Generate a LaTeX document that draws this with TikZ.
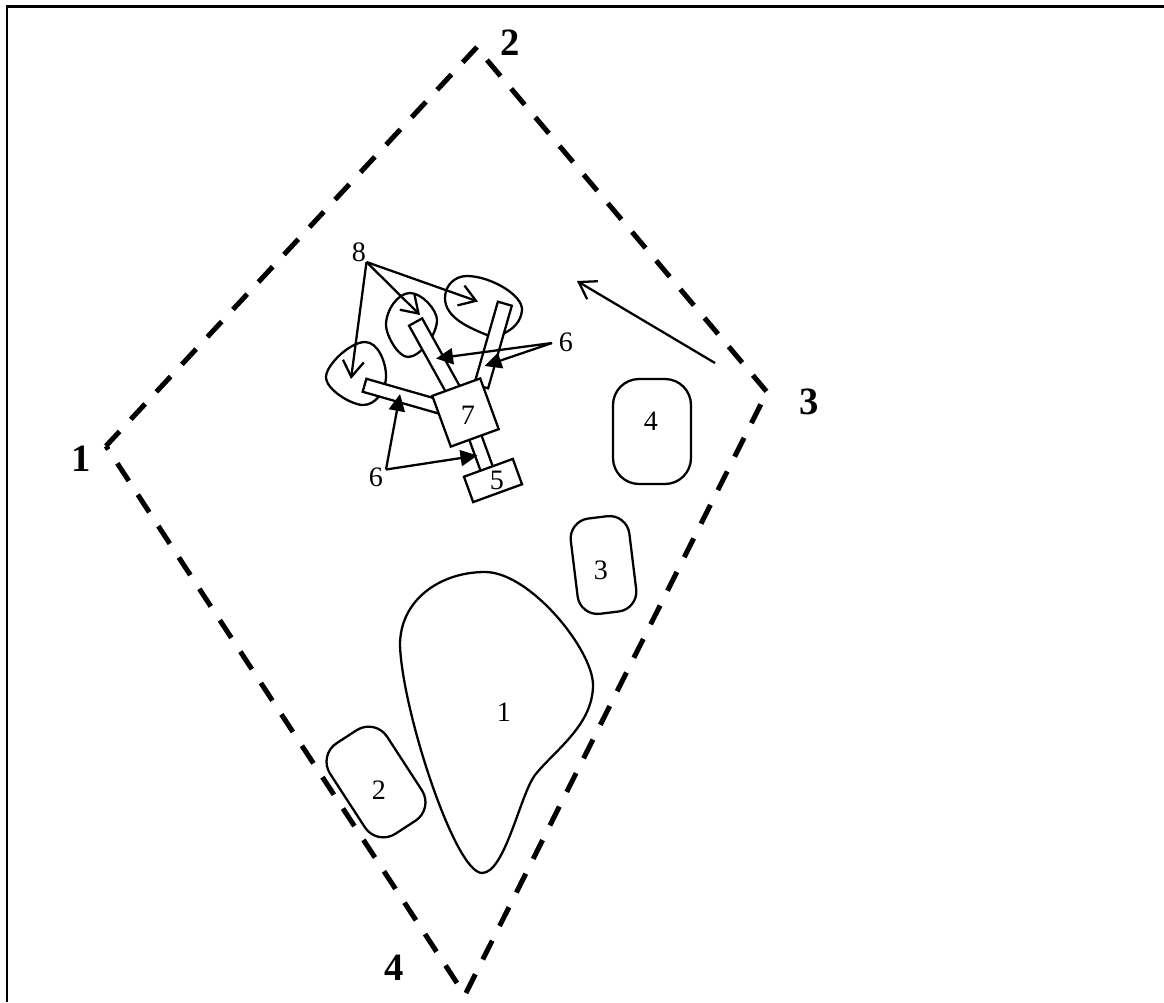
\documentclass[tikz,border=0pt]{standalone}
\usepackage{fontspec}
\setmainfont{Liberation Serif}
\usepackage{tikz}
\usetikzlibrary{arrows.meta}

\tikzset{
  thinline/.style={line width=1.3pt},
  border/.style={dash pattern=on 0.42cm off 0.33cm,line width=2.85pt},
  plotbox/.style={draw,thinline,fill=white,rounded corners=#1,inner sep=0pt},
  partbox/.style={draw,thinline,fill=white,inner sep=0pt},
  small/.style={font=\fontsize{16}{16}\selectfont,inner sep=0pt},
  large/.style={font=\fontsize{22}{22}\selectfont,inner sep=0pt,text=black,draw=none},
  openarrow/.style={thinline,-{Straight Barb[length=0.32cm,width=0.42cm,line width=1.3pt]}},
  solidarrow/.style={thinline,-{Triangle[length=0.34cm,width=0.32cm]}}
}

\begin{document}
\begin{tikzpicture}[x=0.02cm,y=-0.02cm]
  \useasboundingbox (0,0) rectangle (1164,1002);
  % Frame: only left and top sides show
  \draw[line width=1.7pt] (7,1002) -- (7,6.5) -- (1164,6.5);

  % Corners of the site
  \coordinate (c1) at (106,446);
  \coordinate (c2a) at (477,47);
  \coordinate (c2b) at (487,60);
  \coordinate (c3) at (767,392);
  \coordinate (c4a) at (457,983);
  \coordinate (c4b) at (466,993);
  \draw[border] (c2a) -- (c1);
  \draw[border] (c2b) -- (c3);
  \draw[border] (c4b) -- (c3);
  \draw[border] (c4a) -- (c1);
  \node[large] (corner1) at (81,459) {\textbf{1}};
  \node[large] (corner2) at (510,43) {\textbf{2}};
  \node[large] (corner3) at (809,402) {\textbf{3}};
  \node[large] (corner4) at (394,968) {\textbf{4}};

  % Large plot 1
  \draw[thinline] (485,572) .. controls (440,572) and (400,600) .. (400,645)
    .. controls (402,710) and (455,873) .. (482,873)
    .. controls (505,873) and (520,795) .. (535,775)
    .. controls (555,750) and (593,725) .. (593,685)
    .. controls (593,650) and (530,572) .. (485,572) -- cycle;
  \node[small] (plot1) at (504,712) {1};

  % Rounded plots 2, 3, 4
  \node[plotbox=0.44cm,minimum width=1.36cm,minimum height=2.16cm,rotate=33] (box2) at (376,782) {};
  \node[small] (plot2) at (379,790) {2};
  \node[plotbox=0.40cm,minimum width=1.18cm,minimum height=1.92cm,rotate=7] (box3) at (603.5,565) {};
  \node[small] (plot3) at (601,570) {3};
  \node[plotbox=0.52cm,minimum width=1.56cm,minimum height=2.10cm] (box4) at (652,431.5) {};
  \node[small] (plot4) at (651,421) {4};

  % Outlines 8
  \draw[thinline] (467,276) .. controls (490,276) and (523,295) .. (522,310)
    .. controls (521,322) and (513,330) .. (500,335)
    -- (487,335) .. controls (470,328) and (445,318) .. (445,298)
    .. controls (445,285) and (455,276) .. (467,276) -- cycle;
  \draw[thinline] (410,293) .. controls (422,293) and (437,310) .. (437,320)
    .. controls (437,335) and (420,357) .. (408,357)
    .. controls (398,357) and (386,335) .. (386,325)
    .. controls (386,310) and (398,293) .. (410,293) -- cycle;
  \draw[thinline] (365,342) .. controls (378,342) and (386,362) .. (386,376)
    .. controls (386,392) and (375,405) .. (363,405)
    .. controls (352,405) and (326,390) .. (326,377)
    .. controls (326,365) and (350,342) .. (365,342) -- cycle;

  % Arms 6, then 7 and 5 over their ends
  \node[partbox,minimum width=0.29cm,minimum height=1.72cm,rotate=-16] (armright) at (493,345) {};
  \node[partbox,minimum width=0.30cm,minimum height=1.60cm,rotate=29] (armmid) at (435,357) {};
  \node[partbox,minimum width=1.56cm,minimum height=0.27cm,rotate=-16] (armleft) at (402,396) {};
  \node[partbox,minimum width=0.26cm,minimum height=0.70cm,rotate=20] (armlow) at (481,453) {};
  \node[partbox,minimum width=1.02cm,minimum height=1.08cm,rotate=20] (box7) at (465.5,412.5) {};
  \node[small] (part7) at (468,415) {7};
  \node[partbox,minimum width=1.04cm,minimum height=0.54cm,rotate=20] (box5) at (493,480.5) {};
  \node[small] (part5) at (497,480) {5};

  % Labels and their arrows
  \node[small] (mark8) at (359,252) {8};
  \node[small] (mark6a) at (566,342) {6};
  \node[small] (mark6b) at (376,477) {6};
  \coordinate (fork8) at (366.5,262);
  \coordinate (fork6a) at (552,343);
  \coordinate (fork6b) at (386,469.5);
  \coordinate (tip8a) at (478,301.5);
  \coordinate (tip8b) at (420,315);
  \coordinate (tip8c) at (351,379);
  \coordinate (tip6a) at (436,358.5);
  \coordinate (tip6b) at (484.5,366);
  \coordinate (tip6c) at (400,394);
  \coordinate (tip6d) at (477.5,455.5);
  \draw[openarrow] (fork8) -- (tip8a);
  \draw[openarrow] (fork8) -- (tip8b);
  \draw[openarrow] (fork8) -- (tip8c);
  \draw[solidarrow] (fork6a) -- (tip6a);
  \draw[solidarrow] (fork6a) -- (tip6b);
  \draw[solidarrow] (fork6b) -- (tip6c);
  \draw[solidarrow] (fork6b) -- (tip6d);

  % Direction arrow
  \coordinate (dirstart) at (715,363);
  \coordinate (dirtip) at (577,281);
  \draw[openarrow] (dirstart) -- (dirtip);
\end{tikzpicture}
\end{document}
